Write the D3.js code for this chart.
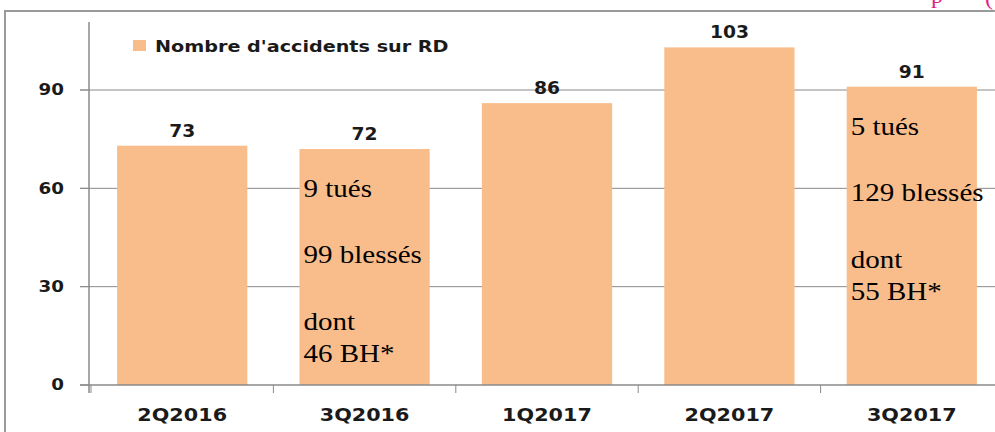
<!DOCTYPE html>
<html>
<head>
<meta charset="utf-8">
<script src="https://cdn.jsdelivr.net/npm/d3@7"></script>
<style>
  body { margin: 0; background: #fff; }
  svg { display: block; }
  .sans { font-family: "DejaVu Sans", Verdana, sans-serif; font-weight: bold; fill: #1a1a1a; }
  .serif { font-family: "Liberation Serif", "Times New Roman", serif; fill: #000; }
</style>
</head>
<body>
<svg id="chart" width="995" height="432"></svg>
<script>
// data
const categories = ["2Q2016", "3Q2016", "1Q2017", "2Q2017", "3Q2017"];
const accidents = [73, 72, 86, 103, 91];
const yTicks = [0, 30, 60, 90];
const seriesName = "Nombre d'accidents sur RD";
const notes = {
    "3Q2016": ["9 tués", "99 blessés", "dont", "46 BH*"],
    "3Q2017": ["5 tués", "129 blessés", "dont", "55 BH*"]
};
const noteOffsets = [48, 114, 181, 213];

const svg = d3.select("svg#chart");
const barColor = "#f9bd8c";
const gridColor = "#8a8a8a";

// the source picture is a bit stretched sideways
const stretch = (px, py, s) => `translate(${px},${py}) scale(${s},1)`;

// outer frame, cut by the picture on the right and bottom
svg.append("rect")
    .attr("x", 5).attr("y", 11)
    .attr("width", 1000).attr("height", 500)
    .attr("fill", "none")
    .attr("stroke", "#9a9a9a")
    .attr("stroke-width", 2);

// cropped line of the page above the chart
svg.append("text").attr("class", "serif")
    .attr("x", 931).attr("y", 3)
    .style("font-size", "24px").style("fill", "#e0218a")
    .text("p");
svg.append("text").attr("class", "serif")
    .attr("x", 985).attr("y", 5)
    .style("font-size", "24px").style("fill", "#e0218a")
    .text("(");

const x = d3.scaleBand()
    .domain(categories)
    .range([91, 1003])
    .paddingInner(0.286)
    .paddingOuter(0.143);

const y = d3.scaleLinear().domain([0, 90]).range([385, 90]);

const step = x.step();
const gap = step * x.paddingInner();

// gridlines
svg.append("g").attr("class", "grid")
    .selectAll("line")
    .data(yTicks.filter(d => d > 0))
    .join("line")
    .attr("x1", 80).attr("x2", 995)
    .attr("y1", d => y(d)).attr("y2", d => y(d))
    .attr("stroke", gridColor).attr("stroke-width", 1);

// bars
svg.append("g").selectAll("rect")
    .data(accidents)
    .join("rect")
    .attr("x", (d, i) => x(categories[i]))
    .attr("y", d => y(d))
    .attr("width", x.bandwidth())
    .attr("height", d => y(0) - y(d))
    .attr("fill", barColor);

// y axis
svg.append("line")
    .attr("x1", 89).attr("x2", 89)
    .attr("y1", 22).attr("y2", 393)
    .attr("stroke", gridColor).attr("stroke-width", 1.5);
svg.append("g").selectAll("line")
    .data(yTicks)
    .join("line")
    .attr("x1", 80).attr("x2", 89)
    .attr("y1", d => y(d)).attr("y2", d => y(d))
    .attr("stroke", gridColor);
svg.append("g").selectAll("text")
    .data(yTicks)
    .join("text")
    .attr("class", "sans")
    .attr("transform", d => stretch(64, y(d), 1.22))
    .attr("dy", "0.36em")
    .attr("text-anchor", "end")
    .style("font-size", "15px")
    .text(d => d);

// x axis
svg.append("line")
    .attr("x1", 80).attr("x2", 995)
    .attr("y1", y(0)).attr("y2", y(0))
    .attr("stroke", gridColor).attr("stroke-width", 1.5);
svg.append("g").selectAll("line")
    .data(categories.concat(["end"]))
    .join("line")
    .attr("x1", (d, i) => x(categories[0]) - gap / 2 + i * step)
    .attr("x2", (d, i) => x(categories[0]) - gap / 2 + i * step)
    .attr("y1", y(0)).attr("y2", y(0) + 8)
    .attr("stroke", gridColor);
svg.append("g").selectAll("text")
    .data(categories)
    .join("text")
    .attr("class", "sans")
    .attr("transform", d => stretch(x(d) + x.bandwidth() / 2, 421, 1.22))
    .attr("text-anchor", "middle")
    .style("font-size", "17px")
    .text(d => d);

// value labels
svg.append("g").selectAll("text")
    .data(accidents)
    .join("text")
    .attr("class", "sans")
    .attr("transform", (d, i) => stretch(x(categories[i]) + x.bandwidth() / 2, y(d) - 9, 1.1))
    .attr("text-anchor", "middle")
    .style("font-size", "17px")
    .text(d => d);

// notes inside bars
categories.forEach((c, i) => {
    if (!notes[c]) return;
    svg.append("g").selectAll("text")
        .data(notes[c])
        .join("text")
        .attr("class", "serif")
        .attr("transform", (d, j) => stretch(x(c) + 4, y(accidents[i]) + noteOffsets[j], 1.16))
        .style("font-size", "25px")
        .text(d => d);
});

// legend
svg.append("rect")
    .attr("x", 133).attr("y", 40)
    .attr("width", 13).attr("height", 11)
    .attr("fill", barColor);
svg.append("text")
    .attr("class", "sans")
    .attr("transform", stretch(155, 52, 1.2))
    .style("font-size", "16px")
    .text(seriesName);
</script>
</body>
</html>
